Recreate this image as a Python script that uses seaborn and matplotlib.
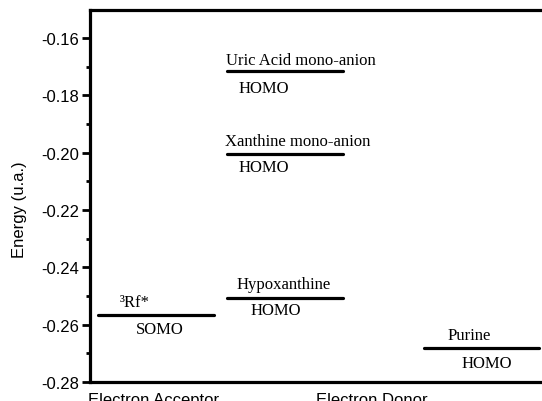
import matplotlib
matplotlib.use("Agg")
import matplotlib.pyplot as plt
from matplotlib.ticker import MultipleLocator
import numpy as np
import pandas as pd
import seaborn as sns

# Orbital energy levels (hartree) of the photosensitiser and the purine donors
species = ["³Rf*", "Uric Acid mono-anion", "Xanthine mono-anion", "Hypoxanthine", "Purine"]
orbitals = ["SOMO", "HOMO", "HOMO", "HOMO", "HOMO"]
energies = [-0.2565, -0.1716, -0.2004, -0.2507, -0.2681]
roles = ["Electron Acceptor", "Electron Donor"]
y_ticks = [-0.28, -0.26, -0.24, -0.22, -0.20, -0.18, -0.16]

# Layout: left end of each level bar on the x axis and the bar length
bar_start = [0.07, 1.19, 1.19, 1.19, 2.89]
bar_len = 1.0
role_pos = [0.55, 2.44]
# label offsets in pixels relative to the bar centre: (dx, dy) name above, orbital below
name_off = [(-21, 5), (16, 3), (12, 5), (-2, 6), (-12, 5)]
orb_off = [(4, -6), (-21, -9), (-21, -5), (-9, -4), (5, -7)]

sns.set_theme(style="ticks")
plt.rcParams["font.family"] = ["Liberation Sans", "DejaVu Sans"]
plt.rcParams["text.color"] = "black"
plt.rcParams["axes.labelcolor"] = "black"

rows = []
for name, e, x0 in zip(species, energies, bar_start):
    rows.append({"level": name, "x": x0, "energy": e})
    rows.append({"level": name, "x": x0 + bar_len, "energy": e})
df = pd.DataFrame(rows)

fig = plt.figure(figsize=(5.42, 4.02), dpi=100)
ax = fig.add_axes([90 / 542, 19 / 402, 462 / 542, 372 / 402])

sns.lineplot(data=df, x="x", y="energy", units="level", estimator=None,
             color="black", linewidth=2.3, ax=ax, legend=False)

serif = ["Liberation Serif", "DejaVu Serif"]
for name, orb, e, x0, no, oo in zip(species, orbitals, energies, bar_start, name_off, orb_off):
    xc = x0 + bar_len / 2
    ax.annotate(name, xy=(xc, e), xytext=no, textcoords="offset pixels",
                ha="center", va="bottom", fontsize=12, family=serif, color="black")
    ax.annotate(orb, xy=(xc, e), xytext=oo, textcoords="offset pixels",
                ha="center", va="top", fontsize=12, family=serif, color="black")

ax.set_xlim(0, 4)
ax.set_ylim(-0.28, -0.1502)
ax.set_yticks(y_ticks)
ax.set_yticklabels([f"{v:.2f}" for v in y_ticks])
ax.yaxis.set_minor_locator(MultipleLocator(0.01))
ax.set_xticks(role_pos)
ax.set_xticklabels(roles)
ax.set_xlabel("")
ax.set_ylabel("Energy (u.a.)", fontsize=12, color="black")
ax.yaxis.set_label_coords(-0.136, 0.465)

ax.tick_params(axis="y", which="major", direction="out", length=6, width=2,
               labelsize=12, pad=2, color="black", labelcolor="black")
ax.tick_params(axis="y", which="minor", direction="out", length=3, width=2, color="black")
ax.tick_params(axis="x", length=0, labelsize=12, pad=7, labelcolor="black")

for side in ["left", "right", "top", "bottom"]:
    ax.spines[side].set_visible(True)
    ax.spines[side].set_linewidth(2.3)
    ax.spines[side].set_color("black")

fig.savefig("out.png", dpi=100)
